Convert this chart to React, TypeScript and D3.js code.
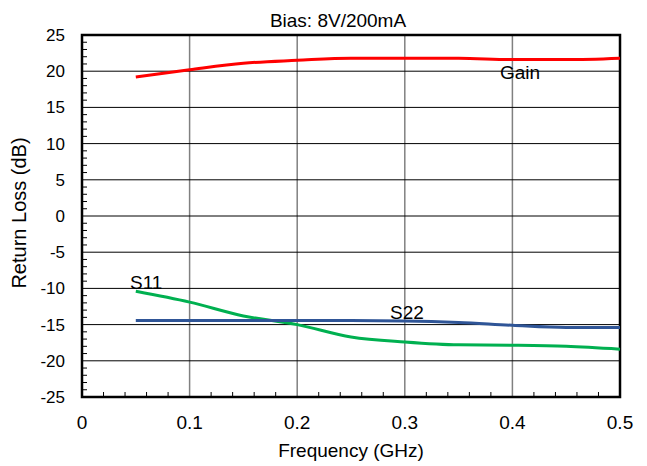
import React, { useEffect, useRef } from 'react';
import * as d3 from 'd3';

const freq = [0.05, 0.1, 0.15, 0.2, 0.25, 0.3, 0.35, 0.4, 0.45, 0.5];
const gain = [19.2, 20.2, 21.1, 21.5, 21.8, 21.8, 21.8, 21.6, 21.6, 21.8];
const s11 = [-10.4, -11.9, -13.8, -15.0, -16.7, -17.4, -17.8, -17.85, -18.0, -18.4];
const s22 = [-14.45, -14.45, -14.45, -14.45, -14.45, -14.5, -14.7, -15.1, -15.4, -15.4];
const xTicks = [0, 0.1, 0.2, 0.3, 0.4, 0.5];
const yTicks = [25, 20, 15, 10, 5, 0, -5, -10, -15, -20, -25];

const W = 647, H = 466;
const m = { left: 82, right: 620, top: 35, bottom: 397 };

export default function App() {
  const ref = useRef<SVGSVGElement>(null);

  useEffect(() => {
    const svg = d3.select(ref.current);
    svg.selectAll('*').remove();
    const font = 'Liberation Sans, Arial, sans-serif';
    const fs = 19;

    const x = d3.scaleLinear().domain([0, 0.5]).range([m.left, m.right]);
    const y = d3.scaleLinear().domain([-25, 25]).range([m.bottom, m.top]);

    // grid
    svg.append('g').selectAll('line').data(xTicks.slice(1, -1)).join('line')
      .attr('x1', d => x(d)).attr('x2', d => x(d))
      .attr('y1', m.top).attr('y2', m.bottom)
      .attr('stroke', '#808080').attr('stroke-width', 1.5);
    svg.append('g').selectAll('line').data(yTicks.slice(1, -1)).join('line')
      .attr('x1', m.left).attr('x2', m.right)
      .attr('y1', d => y(d)).attr('y2', d => y(d))
      .attr('stroke', '#000').attr('stroke-width', 1);

    // minor ticks
    const yMinor = d3.range(-25, 25, 1).filter(v => v % 5 !== 0);
    svg.append('g').selectAll('line').data(yMinor).join('line')
      .attr('x1', m.left).attr('x2', m.left + 5)
      .attr('y1', d => y(d)).attr('y2', d => y(d))
      .attr('stroke', '#000').attr('stroke-width', 1);
    const xMinor = d3.range(0, 50, 2).filter(v => v % 10 !== 0).map(v => v / 100);
    svg.append('g').selectAll('line').data(xMinor).join('line')
      .attr('x1', d => x(d)).attr('x2', d => x(d))
      .attr('y1', m.bottom).attr('y2', m.bottom - 5)
      .attr('stroke', '#000').attr('stroke-width', 1);

    // frame
    svg.append('rect')
      .attr('x', m.left).attr('y', m.top)
      .attr('width', m.right - m.left).attr('height', m.bottom - m.top)
      .attr('fill', 'none').attr('stroke', '#000').attr('stroke-width', 2.5);

    // tick labels
    svg.append('g').selectAll('text').data(yTicks).join('text')
      .attr('x', 65).attr('y', d => y(d)).attr('dy', '0.35em')
      .attr('text-anchor', 'end').attr('font-family', font).attr('font-size', 17)
      .text(d => d);
    svg.append('g').selectAll('text').data(xTicks).join('text')
      .attr('x', d => x(d)).attr('y', 429)
      .attr('text-anchor', 'middle').attr('font-family', font).attr('font-size', fs)
      .text(d => d);

    // series
    const line = d3.line<[number, number]>().x(d => x(d[0])).y(d => y(d[1])).curve(d3.curveMonotoneX);
    const series: [number[], string][] = [[gain, '#ff0000'], [s11, '#00b050'], [s22, '#2f5597']];
    series.forEach(([vals, color]) => {
      svg.append('path')
        .attr('d', line(freq.map((f, i) => [f, vals[i]] as [number, number])))
        .attr('fill', 'none').attr('stroke', color).attr('stroke-width', 3);
    });

    // annotations
    const note = (t: string, tx: number, ty: number) =>
      svg.append('text').attr('x', tx).attr('y', ty)
        .attr('font-family', font).attr('font-size', fs).text(t);
    note('Gain', 500, 79);
    note('S11', 130, 289);
    note('S22', 390, 319);

    svg.append('text').attr('x', 338).attr('y', 27).attr('text-anchor', 'middle')
      .attr('font-family', font).attr('font-size', fs).text('Bias: 8V/200mA');
    svg.append('text').attr('x', 351).attr('y', 457).attr('text-anchor', 'middle')
      .attr('font-family', font).attr('font-size', fs).text('Frequency (GHz)');
    svg.append('text').attr('transform', `translate(26,213) rotate(-90)`)
      .attr('text-anchor', 'middle')
      .attr('font-family', font).attr('font-size', 20).text('Return Loss (dB)');
  }, []);

  return (
    <svg ref={ref} width={W} height={H}
      style={{ position: 'absolute', left: 0, top: 0, background: '#fff' }} />
  );
}
